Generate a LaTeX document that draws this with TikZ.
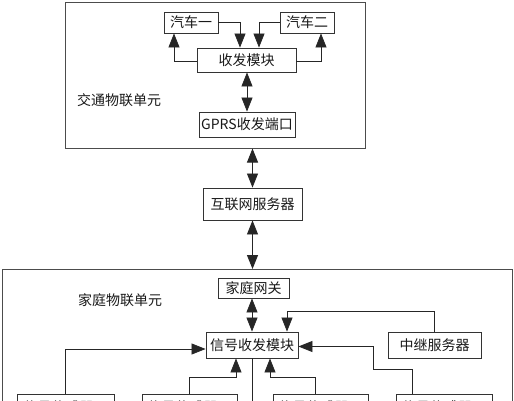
\documentclass[tikz,border=0pt]{standalone}
\usepackage{fontspec}
\setmainfont{Noto Sans CJK SC}
\usetikzlibrary{arrows.meta,calc}
\begin{document}
\begin{tikzpicture}[x=1pt,y=-1pt,
  every node/.style={font=\fontsize{14}{16}\selectfont, text=black!90},
  box/.style={draw=black!80, line width=0.9pt, inner sep=0pt, fill=white},
  outer/.style={draw=black!70, line width=1pt, inner sep=0pt},
  conn/.style={draw=black!85, line width=0.8pt},
  tip/.style={},
  arr/.style={conn, -{Triangle[length=14pt,width=11pt]}},
  darr/.style={conn, {Triangle[length=14pt,width=11pt]}-{Triangle[length=14pt,width=11pt]}},
  lbl/.style={inner sep=0pt}
]
\useasboundingbox (0,0) rectangle (514,400);
\clip (0,0) rectangle (514,400);
\fill[white] (0,0) rectangle (514,400);

% traffic unit
\node[outer, minimum width=300pt, minimum height=146pt] (traffic) at (215,75) {};
\node[lbl] (trafficlbl) at (119,100) {交通物联单元};
\node[box, minimum width=54pt, minimum height=21pt] (car1) at (191,22.5) {汽车一};
\node[box, minimum width=54pt, minimum height=21pt] (car2) at (307,22.5) {汽车二};
\node[box, minimum width=99pt, minimum height=24pt] (trx) at (246.5,60) {收发模块};
\node[box, minimum width=96pt, minimum height=25pt] (gprs) at (247,124.5) {GPRS收发端口};

% internet server
\node[box, minimum width=99pt, minimum height=32pt] (internet) at (252.5,204) {互联网服务器};

% home unit
\node[outer, minimum width=510pt, minimum height=160pt, anchor=north west] (home) at (2,269) {};
\node[lbl] (homelbl) at (120,300) {家庭物联单元};
\node[box, minimum width=71pt, minimum height=20pt] (gateway) at (253.5,288) {家庭网关};
\node[box, minimum width=92pt, minimum height=26pt] (sigmod) at (252,345) {信号收发模块};
\node[box, minimum width=93pt, minimum height=26pt] (relay) at (434.5,345) {中继服务器};
\node[box, minimum width=97pt, minimum height=26pt] (sensor1) at (65.5,407) {信号传感器一};
\node[box, minimum width=95pt, minimum height=26pt] (sensor2) at (189.5,407) {信号传感器二};
\node[box, minimum width=95pt, minimum height=26pt] (sensor3) at (320.5,407) {信号传感器三};
\node[box, minimum width=96pt, minimum height=26pt] (sensor4) at (444,407) {信号传感器四};

% traffic connectors
\draw[arr] (car1.east) -| ($(trx.north)+(-6.5,0)$);
\draw[arr] (car2.west) -| ($(trx.north)+(12.5,0)$);
\draw[arr] ($(trx.west)+(0,1)$) -| ($(car1.south)+(-17,0)$);
\draw[arr] ($(trx.east)+(0,1)$) -| ($(car2.south)+(14,0)$);
\draw[darr] (trx.south -| gprs.north) -- (gprs.north);

% internet links
\draw[darr] (internet.north |- traffic.south) -- (internet.north);
\draw[darr] (internet.south) -- (internet.south |- home.north);

% home connectors
\draw[darr] (gateway.south -| sigmod.north) -- (sigmod.north);
\draw[arr] (relay.north) -- ++(0,-20) -| ($(sigmod.north)+(35,0)$);
\draw[arr] (sensor1.north) |- ($(sigmod.west)+(0,4)$);
\draw[arr] (sensor2.north) -- ++(0,-16) -| ($(sigmod.south)+(-16,0)$);
\draw[arr] ($(sensor3.north)+(-5.5,0)$) -- ++(0,-16) -| ($(sigmod.south)+(18,0)$);
\coordinate (s4bend) at (373,369);
\draw[arr] ($(sensor4.north)+(-32,0)$) |- (s4bend) |- ($(sigmod.east)+(0,1.5)$);
\coordinate (sigdown) at (252,420);
\draw[conn] (sigmod.south) -- (sigdown);
\end{tikzpicture}
\end{document}
